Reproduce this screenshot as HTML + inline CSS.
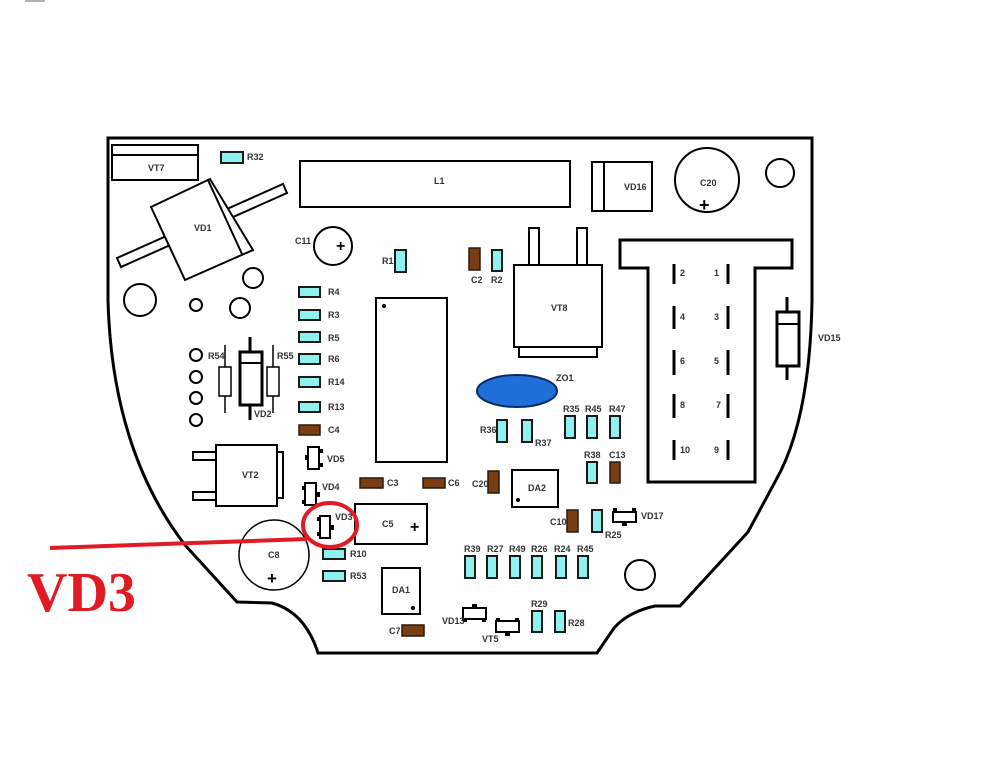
<!DOCTYPE html>
<html><head><style>
html,body{margin:0;padding:0;background:#fff;}
svg{display:block;}
text{font-family:"Liberation Sans",sans-serif;font-size:9px;font-weight:bold;fill:#333;}
.b{fill:#fff;stroke:#000;stroke-width:2;}
.r{fill:#8ff0f0;stroke:#1a1a1a;stroke-width:2;}
.c{fill:#7a3e14;stroke:#2a1a0a;stroke-width:1.5;}
.k{fill:none;stroke:#000;stroke-width:2;}
</style></head><body>
<svg width="1006" height="770" viewBox="0 0 1006 770" xmlns="http://www.w3.org/2000/svg">
<rect width="1006" height="770" fill="#fff"/>
<line x1="25" y1="1" x2="45" y2="1" stroke="#999" stroke-width="1.5"/>
<!-- board outline -->
<path d="M108,138 L812,138 L812,300 Q810,420 776,480 L748,532 L680,606 L655,606 Q628,612 614,628 L597,653 L318,653 Q305,612 272,603 L237,602 L185,545 Q112,450 108,300 Z" fill="none" stroke="#000" stroke-width="3"/>

<!-- VT7 -->
<rect x="112" y="145" width="86" height="35" class="b"/>
<line x1="112" y1="155" x2="198" y2="155" stroke="#000" stroke-width="2"/>
<text x="148" y="171">VT7</text>
<rect x="221" y="152" width="22" height="11" class="r"/><text x="247" y="160">R32</text>
<!-- L1 -->
<rect x="300" y="161" width="270" height="46" class="b"/><text x="434" y="184">L1</text>
<!-- VD1 -->
<polygon points="117,258 283,184 287,193 121,267" class="b"/>
<polygon points="151,207 210,179 253,250 185,280" class="b"/>
<line x1="208" y1="180" x2="242" y2="254" stroke="#000" stroke-width="2"/>
<text x="194" y="231">VD1</text>
<!-- C11 -->
<circle cx="333" cy="246" r="19" class="b"/><text x="295" y="244">C11</text>
<text x="336" y="251" style="font-size:16px;fill:#000">+</text>
<!-- holes -->
<circle cx="140" cy="300" r="16" class="b"/>
<circle cx="196" cy="305" r="6" class="b"/>
<circle cx="240" cy="308" r="10" class="b"/>
<circle cx="253" cy="278" r="10" class="b"/>
<circle cx="196" cy="355" r="6" class="b"/><circle cx="196" cy="377" r="6" class="b"/>
<circle cx="196" cy="398" r="6" class="b"/><circle cx="196" cy="420" r="6" class="b"/>
<!-- R54 / VD2 / R55 -->
<line x1="225" y1="345" x2="225" y2="413" stroke="#000" stroke-width="1.5"/>
<rect x="219" y="367" width="12" height="29" class="b" style="stroke-width:1.5"/><text x="208" y="359">R54</text>
<line x1="250" y1="337" x2="250" y2="420" stroke="#000" stroke-width="3"/>
<rect x="240" y="352" width="22" height="53" class="b" style="stroke-width:3"/>
<line x1="240" y1="363" x2="262" y2="363" stroke="#000" stroke-width="2"/>
<text x="254" y="417">VD2</text>
<line x1="273" y1="345" x2="273" y2="413" stroke="#000" stroke-width="1.5"/>
<rect x="267" y="367" width="12" height="29" class="b" style="stroke-width:1.5"/><text x="277" y="359">R55</text>
<!-- resistor column -->
<rect x="299" y="287" width="21" height="10" class="r"/><text x="328" y="295">R4</text>
<rect x="299" y="310" width="21" height="10" class="r"/><text x="328" y="318">R3</text>
<rect x="299" y="332" width="21" height="10" class="r"/><text x="328" y="341">R5</text>
<rect x="299" y="354" width="21" height="10" class="r"/><text x="328" y="362">R6</text>
<rect x="299" y="377" width="21" height="10" class="r"/><text x="328" y="385">R14</text>
<rect x="299" y="402" width="21" height="10" class="r"/><text x="328" y="410">R13</text>
<rect x="299" y="425" width="21" height="10" class="c"/><text x="328" y="433">C4</text>
<!-- IC -->
<rect x="376" y="298" width="71" height="164" class="b"/><circle cx="384" cy="306" r="2" fill="#000"/>
<rect x="395" y="250" width="11" height="22" class="r"/><text x="382" y="264">R1</text>
<rect x="469" y="248" width="11" height="22" class="c"/><text x="471" y="283">C2</text>
<rect x="492" y="250" width="10" height="21" class="r"/><text x="491" y="283">R2</text>
<!-- VT8 -->
<rect x="529" y="228" width="10" height="37" class="b"/><rect x="577" y="228" width="10" height="37" class="b"/>
<rect x="514" y="265" width="88" height="82" class="b"/>
<rect x="519" y="347" width="78" height="10" class="b"/>
<text x="551" y="311">VT8</text>
<!-- VD16 -->
<rect x="592" y="162" width="60" height="49" class="b"/><line x1="604" y1="162" x2="604" y2="211" stroke="#000" stroke-width="2"/>
<text x="624" y="190">VD16</text>
<!-- C20 big -->
<circle cx="707" cy="180" r="32" class="b"/><text x="700" y="186">C20</text>
<text x="699" y="211" style="font-size:18px;fill:#000">+</text>
<circle cx="780" cy="173" r="14" class="b"/>
<!-- connector -->
<polygon points="620,240 792,240 792,268 755,268 755,482 648,482 648,268 620,268" fill="#fff" stroke="#000" stroke-width="3"/>
<g stroke="#000" stroke-width="3">
<line x1="674" y1="264" x2="674" y2="284"/><line x1="728" y1="264" x2="728" y2="284"/>
<line x1="674" y1="306" x2="674" y2="329"/><line x1="728" y1="306" x2="728" y2="329"/>
<line x1="674" y1="350" x2="674" y2="375"/><line x1="728" y1="350" x2="728" y2="375"/>
<line x1="674" y1="394" x2="674" y2="418"/><line x1="728" y1="394" x2="728" y2="418"/>
<line x1="674" y1="440" x2="674" y2="460"/><line x1="728" y1="440" x2="728" y2="460"/>
</g>
<text x="680" y="276">2</text><text x="714" y="276">1</text>
<text x="680" y="320">4</text><text x="714" y="320">3</text>
<text x="680" y="364">6</text><text x="714" y="364">5</text>
<text x="680" y="408">8</text><text x="716" y="408">7</text>
<text x="680" y="453">10</text><text x="714" y="453">9</text>
<!-- VD15 -->
<line x1="787" y1="297" x2="787" y2="380" stroke="#000" stroke-width="3"/>
<rect x="777" y="312" width="22" height="54" class="b" style="stroke-width:3"/>
<line x1="777" y1="324" x2="799" y2="324" stroke="#000" stroke-width="2"/>
<text x="818" y="341">VD15</text>
<!-- ZO1 -->
<ellipse cx="517" cy="391" rx="40" ry="16" fill="#1f6fd8" stroke="#0a2a66" stroke-width="2"/>
<text x="556" y="381">ZO1</text>
<rect x="497" y="420" width="10" height="22" class="r"/><text x="480" y="433">R36</text>
<rect x="522" y="420" width="10" height="22" class="r"/><text x="535" y="446">R37</text>
<rect x="565" y="416" width="10" height="22" class="r"/><text x="563" y="412">R35</text>
<rect x="587" y="416" width="10" height="22" class="r"/><text x="585" y="412">R45</text>
<rect x="610" y="416" width="10" height="22" class="r"/><text x="609" y="412">R47</text>
<rect x="587" y="462" width="10" height="21" class="r"/><text x="584" y="458">R38</text>
<rect x="610" y="462" width="10" height="21" class="c"/><text x="609" y="458">C13</text>
<rect x="488" y="471" width="11" height="22" class="c"/><text x="472" y="487">C20</text>
<rect x="512" y="470" width="46" height="37" class="b"/><circle cx="518" cy="500" r="2" fill="#000"/><text x="528" y="491">DA2</text>
<rect x="360" y="478" width="23" height="10" class="c"/><text x="387" y="486">C3</text>
<rect x="423" y="478" width="22" height="10" class="c"/><text x="448" y="486">C6</text>
<!-- VT2 -->
<rect x="193" y="452" width="23" height="8" class="b"/><rect x="193" y="492" width="23" height="8" class="b"/>
<rect x="216" y="445" width="61" height="61" class="b"/><rect x="277" y="452" width="6" height="46" class="b"/>
<text x="242" y="478">VT2</text>
<!-- VD5 VD4 VD3 -->
<rect x="308" y="447" width="11" height="22" class="b"/><rect x="305" y="455" width="4" height="5" fill="#000"/><rect x="319" y="449" width="4" height="4" fill="#000"/><rect x="319" y="463" width="4" height="4" fill="#000"/>
<text x="327" y="462">VD5</text>
<rect x="305" y="483" width="11" height="22" class="b"/><rect x="302" y="486" width="4" height="4" fill="#000"/><rect x="302" y="500" width="4" height="4" fill="#000"/><rect x="316" y="492" width="4" height="5" fill="#000"/>
<text x="322" y="490">VD4</text>
<rect x="320" y="516" width="10" height="22" class="b"/><rect x="317" y="517" width="4" height="4" fill="#000"/><rect x="317" y="532" width="4" height="4" fill="#000"/><rect x="330" y="525" width="4" height="5" fill="#000"/>
<text x="335" y="520">VD3</text>
<!-- C5 -->
<rect x="355" y="504" width="72" height="40" class="b"/><text x="382" y="527">C5</text>
<text x="410" y="532" style="font-size:16px;fill:#000">+</text>
<!-- C8 -->
<circle cx="274" cy="555" r="35" class="b" style="stroke-width:1.5"/><text x="268" y="558">C8</text>
<text x="267" y="584" style="font-size:17px;fill:#000">+</text>
<rect x="323" y="549" width="22" height="10" class="r"/><text x="350" y="557">R10</text>
<rect x="323" y="571" width="22" height="10" class="r"/><text x="350" y="579">R53</text>
<!-- DA1 -->
<rect x="382" y="568" width="38" height="46" class="b"/><circle cx="413" cy="608" r="2" fill="#000"/><text x="392" y="593">DA1</text>
<rect x="402" y="625" width="22" height="11" class="c"/><text x="389" y="634">C7</text>
<!-- VD13 VT5 -->
<rect x="463" y="608" width="23" height="11" class="b"/><rect x="472" y="604" width="5" height="4" fill="#000"/><rect x="463" y="619" width="4" height="3" fill="#000"/><rect x="482" y="619" width="4" height="3" fill="#000"/>
<text x="442" y="624">VD13</text>
<rect x="496" y="621" width="23" height="11" class="b"/><rect x="496" y="618" width="4" height="3" fill="#000"/><rect x="515" y="618" width="4" height="3" fill="#000"/><rect x="505" y="632" width="5" height="4" fill="#000"/>
<text x="482" y="642">VT5</text>
<rect x="532" y="611" width="10" height="21" class="r"/><text x="531" y="607">R29</text>
<rect x="555" y="611" width="10" height="21" class="r"/><text x="568" y="626">R28</text>
<!-- row -->
<rect x="465" y="556" width="10" height="22" class="r"/><text x="464" y="552">R39</text>
<rect x="487" y="556" width="10" height="22" class="r"/><text x="487" y="552">R27</text>
<rect x="510" y="556" width="10" height="22" class="r"/><text x="509" y="552">R49</text>
<rect x="532" y="556" width="10" height="22" class="r"/><text x="531" y="552">R26</text>
<rect x="556" y="556" width="10" height="22" class="r"/><text x="554" y="552">R24</text>
<rect x="578" y="556" width="10" height="22" class="r"/><text x="577" y="552">R45</text>
<rect x="567" y="510" width="11" height="22" class="c"/><text x="550" y="525">C10</text>
<rect x="592" y="510" width="10" height="22" class="r"/><text x="605" y="538">R25</text>
<rect x="613" y="512" width="23" height="10" class="b"/><rect x="613" y="508" width="4" height="4" fill="#000"/><rect x="632" y="508" width="4" height="4" fill="#000"/><rect x="622" y="522" width="5" height="4" fill="#000"/>
<text x="641" y="519">VD17</text>
<circle cx="640" cy="575" r="15" class="b"/>
<!-- red annotation -->
<line x1="50" y1="548" x2="307" y2="539" stroke="#e01b24" stroke-width="4"/>
<ellipse cx="330" cy="525" rx="27" ry="22" fill="none" stroke="#e01b24" stroke-width="4"/>
<text x="27" y="611" style="font-family:'Liberation Serif',serif;font-weight:bold;font-size:56px;fill:#e01b24">VD3</text>
</svg>
</body></html>
